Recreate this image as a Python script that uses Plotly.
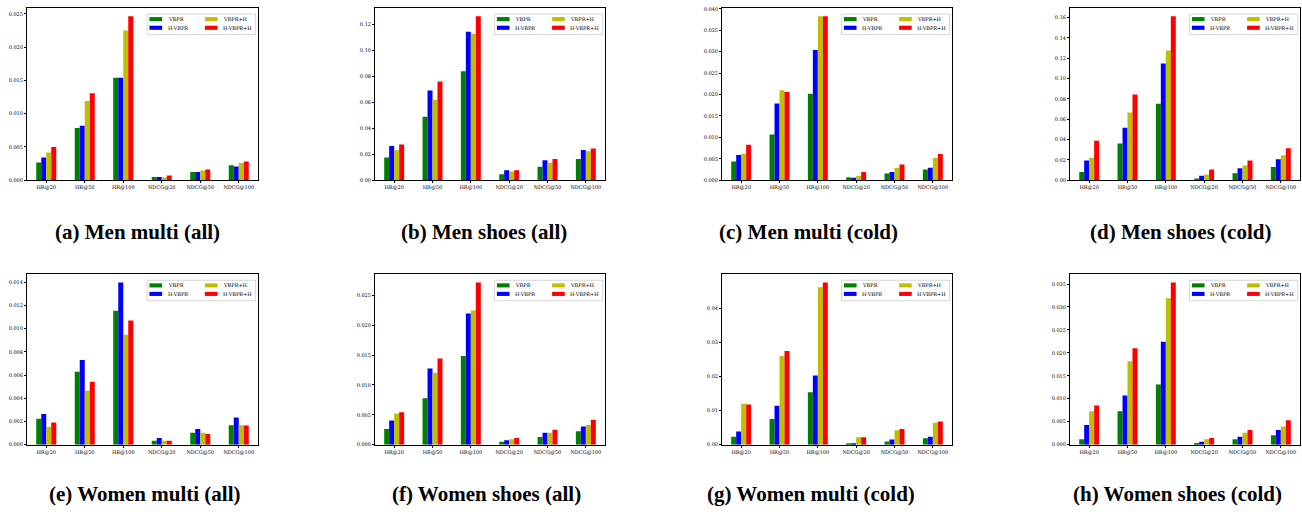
import plotly.graph_objects as go

categories = ["HR@20", "HR@50", "HR@100", "NDCG@20", "NDCG@50", "NDCG@100"]
series_names = ["VBPR", "H-VBPR", "VBPR+H", "H-VBPR+H"]
series_colors = ["#008000", "#0000ff", "#bfbf00", "#ff0000"]

# values per panel, rows in series order: VBPR, H-VBPR, VBPR+H, H-VBPR+H
men_multi_all = [
    [0.00265, 0.00785, 0.0154, 0.0005, 0.00125, 0.00225],
    [0.0034, 0.0082, 0.0154, 0.0005, 0.00125, 0.00205],
    [0.00415, 0.0119, 0.0225, 0.0004, 0.00145, 0.0026],
    [0.0050, 0.01305, 0.02465, 0.0007, 0.0016, 0.0028],
]
men_shoes_all = [
    [0.0175, 0.049, 0.084, 0.0046, 0.0105, 0.0164],
    [0.0264, 0.0693, 0.1145, 0.0077, 0.0154, 0.0234],
    [0.0231, 0.0621, 0.113, 0.0067, 0.0134, 0.0223],
    [0.0275, 0.0762, 0.1266, 0.0077, 0.0164, 0.0244],
]
men_multi_cold = [
    [0.00435, 0.0107, 0.0202, 0.0007, 0.0016, 0.0025],
    [0.0059, 0.0179, 0.0304, 0.0006, 0.0019, 0.0029],
    [0.0062, 0.0210, 0.0383, 0.0010, 0.0029, 0.0052],
    [0.0083, 0.0206, 0.0383, 0.0019, 0.0037, 0.0061],
]
men_shoes_cold = [
    [0.0082, 0.0361, 0.0751, 0.0016, 0.0069, 0.0131],
    [0.0193, 0.0515, 0.1148, 0.0043, 0.0118, 0.0207],
    [0.0220, 0.0666, 0.1275, 0.0056, 0.0144, 0.0246],
    [0.0387, 0.0843, 0.1613, 0.0105, 0.0193, 0.0315],
]
women_multi_all = [
    [0.00223, 0.00628, 0.01153, 0.00034, 0.00103, 0.00168],
    [0.00265, 0.0073, 0.01398, 0.00057, 0.00134, 0.00234],
    [0.00154, 0.00465, 0.00947, 0.00034, 0.00103, 0.00168],
    [0.00191, 0.00542, 0.0107, 0.00034, 0.00091, 0.00165],
]
women_shoes_all = [
    [0.0026, 0.00776, 0.01486, 0.0005, 0.00128, 0.00222],
    [0.00405, 0.01275, 0.02195, 0.00072, 0.0020, 0.00305],
    [0.0052, 0.01203, 0.02245, 0.00089, 0.0020, 0.00327],
    [0.00543, 0.01441, 0.02716, 0.00111, 0.0025, 0.00416],
]
women_multi_cold = [
    [0.00232, 0.00755, 0.0154, 0.0001, 0.0009, 0.0019],
    [0.00387, 0.01143, 0.0203, 0.0004, 0.0015, 0.0023],
    [0.0120, 0.0260, 0.0462, 0.0022, 0.0042, 0.0064],
    [0.0118, 0.0275, 0.0476, 0.0022, 0.0046, 0.0068],
]
women_shoes_cold = [
    [0.00115, 0.00729, 0.01313, 0.00036, 0.00115, 0.00202],
    [0.00426, 0.01068, 0.02244, 0.00065, 0.00173, 0.00317],
    [0.00729, 0.01818, 0.03189, 0.00115, 0.0026, 0.00397],
    [0.00851, 0.0210, 0.03535, 0.00144, 0.00317, 0.00534],
]

captions = [
    "(a) Men multi (all)", "(b) Men shoes (all)", "(c) Men multi (cold)", "(d) Men shoes (cold)",
    "(e) Women multi (all)", "(f) Women shoes (all)", "(g) Women multi (cold)", "(h) Women shoes (cold)",
]
tick_steps = [0.005, 0.02, 0.005, 0.02, 0.002, 0.005, 0.01, 0.005]
tick_formats = [".3f", ".2f", ".3f", ".2f", ".3f", ".3f", ".2f", ".3f"]

panels = [men_multi_all, men_shoes_all, men_multi_cold, men_shoes_cold,
          women_multi_all, women_shoes_all, women_multi_cold, women_shoes_cold]

W, H = 1302, 512
col_px = [(27, 258), (375, 605), (722, 952), (1070, 1300)]
row_px = [(6, 180), (275, 447)]
caption_x = [137, 484, 809, 1180, 145, 486, 811, 1177]
caption_y = [232, 497]

fig = go.Figure()
layout = dict(
    width=W, height=H,
    margin=dict(l=0, r=0, t=0, b=0),
    paper_bgcolor="white", plot_bgcolor="white",
    barmode="group", bargap=0.48, bargroupgap=0.0,
    showlegend=False,
    font=dict(family="DejaVu Sans", size=5, color="black"),
)
annotations = []
shapes = []

for i, panel in enumerate(panels):
    r, c = divmod(i, 4)
    n = i + 1
    xa = "x" if n == 1 else f"x{n}"
    ya = "y" if n == 1 else f"y{n}"
    for s in range(4):
        fig.add_trace(go.Bar(
            x=categories, y=panel[s], name=series_names[s],
            marker=dict(color=series_colors[s], line=dict(width=0)),
            xaxis=xa, yaxis=ya, showlegend=False,
        ))
    vmax = max(max(row) for row in panel)
    x0, x1 = col_px[c]
    t0, t1 = row_px[r]
    xkey = "xaxis" if n == 1 else f"xaxis{n}"
    ykey = "yaxis" if n == 1 else f"yaxis{n}"
    layout[xkey] = dict(
        domain=[x0 / W, x1 / W], anchor=ya, type="category",
        range=[-0.5, 5.5], showline=True, linecolor="black", linewidth=1,
        mirror=True, ticks="outside", ticklen=2, tickcolor="black",
        tickfont=dict(size=5, family="DejaVu Serif"), showgrid=False, zeroline=False,
    )
    layout[ykey] = dict(
        domain=[1 - t1 / H, 1 - t0 / H], anchor=xa,
        range=[0, vmax * 1.05], dtick=tick_steps[i], tick0=0,
        tickformat=tick_formats[i], showline=True, linecolor="black", linewidth=1,
        mirror=True, ticks="outside", ticklen=2, tickcolor="black",
        tickfont=dict(size=5, family="DejaVu Serif"), showgrid=False, zeroline=False,
    )
    # legend box (2 columns) in axis-domain coordinates
    xd = f"{xa} domain"
    yd = f"{ya} domain"
    shapes.append(dict(type="rect", xref=xd, yref=yd, x0=0.52, x1=0.99, y0=0.845, y1=0.965,
                       line=dict(color="#cccccc", width=0.8), fillcolor="white", layer="above"))
    slots = [(0.53, 0.935), (0.53, 0.885), (0.77, 0.935), (0.77, 0.885)]
    for s in range(4):
        sx, sy = slots[s]
        shapes.append(dict(type="rect", xref=xd, yref=yd, x0=sx, x1=sx + 0.055,
                           y0=sy - 0.012, y1=sy + 0.012,
                           line=dict(width=0), fillcolor=series_colors[s], layer="above"))
        annotations.append(dict(xref=xd, yref=yd, x=sx + 0.07, y=sy, text=series_names[s],
                                showarrow=False, xanchor="left", yanchor="middle",
                                font=dict(size=5, family="DejaVu Serif", color="black")))
    annotations.append(dict(xref="paper", yref="paper", x=caption_x[i] / W,
                            y=1 - caption_y[r] / H, text=f"<b>{captions[i]}</b>",
                            showarrow=False, xanchor="center", yanchor="middle",
                            font=dict(size=21, family="Liberation Serif", color="black")))

layout["annotations"] = annotations
layout["shapes"] = shapes
fig.update_layout(**layout)
fig.write_html(
    "out.html",
    config={"displayModeBar": False},
    post_script="document.body.style.margin='0px';document.documentElement.style.overflow='hidden';document.body.style.overflow='hidden';",
)
